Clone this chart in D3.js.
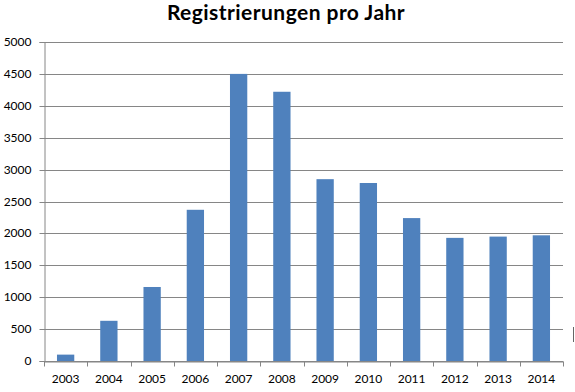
<!DOCTYPE html>
<html>
<head>
<meta charset="utf-8">
<script src="https://cdn.jsdelivr.net/npm/d3@7"></script>
<style>
  body { margin: 0; background: #fff; }
  svg { display: block; }
  .tick text { font-family: Lato, "Open Sans", sans-serif; font-size: 12px; fill: #000; }
  .title { font-family: Lato, "Open Sans", sans-serif; font-weight: bold; font-size: 21px; letter-spacing: 0.45px; }
</style>
</head>
<body>
<div id="chart"></div>
<script>
// chart values
var years = ["2003", "2004", "2005", "2006", "2007", "2008", "2009", "2010", "2011", "2012", "2013", "2014"];
var registrations = [100, 630, 1160, 2370, 4500, 4220, 2850, 2790, 2240, 1930, 1950, 1970];
var yTicks = [0, 500, 1000, 1500, 2000, 2500, 3000, 3500, 4000, 4500, 5000];

var totalWidth = 575,
    totalHeight = 392;

var margin = {top: 42, right: 12, bottom: 31, left: 44},
    width = totalWidth - margin.left - margin.right,
    height = totalHeight - margin.top - margin.bottom;

var gridColor = "#868686";
var barColor = "#4f81bd";

var svg = d3.select("#chart").append("svg")
  .attr("width", totalWidth)
  .attr("height", totalHeight);

svg.append("text")
  .attr("class", "title")
  .attr("x", 286)
  .attr("y", 20)
  .attr("text-anchor", "middle")
  .text("Registrierungen pro Jahr");

var g = svg.append("g")
  .attr("transform", "translate(" + margin.left + "," + margin.top + ")");

var x = d3.scaleBand()
  .domain(years)
  .range([0, width])
  .paddingInner(0.6)
  .paddingOuter(0.3);

var y = d3.scaleLinear()
  .domain([0, 5000])
  .range([height, 0]);

// horizontal gridlines
g.append("g")
  .selectAll("line")
  .data(yTicks)
  .enter()
  .append("line")
  .attr("x1", 0)
  .attr("x2", width)
  .attr("y1", function(d) { return Math.round(y(d)) + 0.5; })
  .attr("y2", function(d) { return Math.round(y(d)) + 0.5; })
  .style("stroke", gridColor)
  .style("stroke-width", 1);

// y axis
var yaxis = d3.axisLeft(y).tickValues(yTicks).tickSize(5).tickPadding(8).tickFormat(d3.format("d"));
var yg = g.append("g")
  .attr("transform", "translate(0.5,0)")
  .call(yaxis);
yg.selectAll("path, line").style("stroke", gridColor);
yg.selectAll(".tick").attr("transform", function(d) { return "translate(0," + (Math.round(y(d)) + 0.5) + ")"; });

// bars
g.append("g")
  .selectAll("rect")
  .data(registrations)
  .enter()
  .append("rect")
  .attr("x", function(d, i) { return x(years[i]); })
  .attr("width", x.bandwidth())
  .attr("y", function(d) { return y(d); })
  .attr("height", function(d) { return height - y(d); })
  .style("fill", barColor);

// x axis, ticks at category boundaries
var xaxis = d3.axisBottom(x).tickSize(0).tickPadding(13);
var xg = g.append("g")
  .attr("transform", "translate(0," + (height + 0.5) + ")")
  .call(xaxis);
xg.select(".domain").style("stroke", gridColor);

var step = x.step();
xg.selectAll("line.sep")
  .data(d3.range(years.length + 1))
  .enter()
  .append("line")
  .attr("class", "sep")
  .attr("x1", function(i) { return Math.round(i * step) + 0.5; })
  .attr("x2", function(i) { return Math.round(i * step) + 0.5; })
  .attr("y1", 0)
  .attr("y2", 5)
  .style("stroke", gridColor);

// small mark at the right border
svg.append("line")
  .attr("x1", 573.5).attr("x2", 573.5)
  .attr("y1", 327).attr("y2", 342)
  .style("stroke", "#666");
</script>
</body>
</html>
